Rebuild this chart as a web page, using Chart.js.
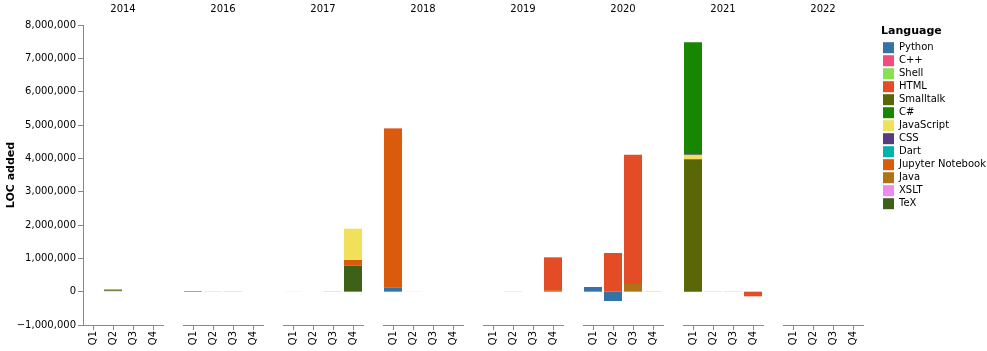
<!DOCTYPE html>
<html>
<head>
<meta charset="utf-8">
<script src="https://cdn.jsdelivr.net/npm/chart.js@4.4.1/dist/chart.umd.min.js"></script>
<style>
  html, body { margin: 0; padding: 0; background: #fff; width: 987px; height: 351px; overflow: hidden; position: relative; }
  canvas { position: absolute; top: 0; }
</style>
</head>
<body>
<script>
// ---- data ----
const years = ['2014', '2016', '2017', '2018', '2019', '2020', '2021', '2022'];
const quarters = ['Q1', 'Q2', 'Q3', 'Q4'];
const yMin = -1000000;
const yMax = 8000000;
const yStep = 1000000;
const yTitle = 'LOC added';
const legendTitle = 'Language';

// legend order
const languages = ['Python', 'C++', 'Shell', 'HTML', 'Smalltalk', 'C#', 'JavaScript', 'CSS', 'Dart', 'Jupyter Notebook', 'Java', 'XSLT', 'TeX'];
const colors = ['#3572A5', '#f34b7d', '#89e051', '#e34c26', '#596706', '#178600', '#f1e05a', '#563d7c', '#00B4AB', '#DA5B0B', '#b07219', '#EB8CEB', '#3D6117'];

// values per language, year by year (Q1..Q4 for each year in `years`)
//                  2014                 2016                2017                     2018                  2019                2020                          2021                         2022
const python     = [0, 0, 0, 0,          0, 0, 0, 0,         0, 0, 5000, 0,           120000, 0, 0, 0,      0, 0, 0, 0,         140000, -280000, 0, 0,        0, 0, 0, 0,                  0, 0, 0, 0];
const cpp        = [0, 0, 0, 0,          0, 0, 0, 0,         0, 0, 0, 0,              0, 0, 0, 0,           0, 0, 0, 0,         0, 0, 0, 0,                   0, 0, 0, 0,                  0, 0, 0, 0];
const shell      = [0, 15000, 0, 0,      0, 0, 0, 0,         0, 0, 0, 0,              0, 0, 0, 0,           0, 0, 0, 0,         0, 0, 0, 0,                   0, 0, 0, 0,                  0, 0, 0, 0];
const html       = [0, 0, 0, 0,          0, 0, 0, 0,         0, 0, 0, 0,              15000, 0, 0, 0,       0, 0, 0, 985000,    0, 1160000, 3880000, 0,       0, 0, 0, -140000,            0, 0, 0, 0];
const smalltalk  = [0, 30000, 0, 0,      0, 0, 0, 0,         0, 0, 0, 0,              0, 0, 0, 0,           0, 0, 0, 0,         0, 0, 0, 0,                   3970000, 0, 0, 0,            0, 0, 0, 0];
const csharp     = [0, 0, 0, 0,          0, 0, 0, 0,         0, 0, 0, 0,              0, 0, 0, 0,           0, 0, 0, 0,         0, 0, 0, 0,                   3360000, 0, 0, 0,            0, 0, 0, 0];
const javascript = [0, 0, 0, 0,          0, 15000, 0, 0,     5000, 0, 0, 940000,      0, 5000, 0, 0,        0, 0, 0, 0,         0, 0, 0, 0,                   130000, 0, 0, 0,             0, 0, 0, 0];
const css        = [0, 0, 0, 0,          15000, 0, 4000, 0,  0, 0, 0, 0,              0, 0, 0, 0,           0, 3000, 0, 0,      0, 0, 0, 4000,                20000, 0, 0, 0,              0, 0, 0, 0];
const dart       = [0, 0, 0, 0,          0, 0, 0, 0,         0, 0, 0, 0,              0, 0, 0, 0,           0, 0, 0, 0,         0, 0, 0, 0,                   0, 5000, 5000, 0,            0, 0, 0, 0];
const jupyter    = [0, 0, 0, 0,          0, 0, 0, 0,         0, 0, 0, 170000,         4770000, 0, 0, 0,     0, 0, 0, 45000,     0, 0, 0, 0,                   0, 0, 0, 0,                  0, 0, 0, 0];
const java       = [0, 0, 0, 0,          0, 0, 0, 0,         0, 0, 0, 0,              0, 0, 0, 0,           0, 0, 0, 0,         0, 0, 230000, 0,              0, 0, 0, 0,                  0, 0, 0, 0];
const xslt       = [0, 0, 0, 0,          0, 0, 0, 0,         0, 0, 0, 0,              0, 0, 0, 0,           0, 0, 0, 0,         0, 0, 0, 0,                   0, 0, 0, 0,                  0, 0, 0, 0];
const tex        = [0, 30000, 0, 0,      0, 0, 0, 0,         0, 0, 0, 780000,         0, 0, 0, 0,           0, 0, 0, 0,         0, 0, 0, 0,                   0, 0, 0, 0,                  0, 0, 0, 0];

const seriesList = [python, cpp, shell, html, smalltalk, csharp, javascript, css, dart, jupyter, java, xslt, tex];

// ---- rendering ----
Chart.defaults.font.family = "'DejaVu Sans', 'Liberation Sans', sans-serif";
Chart.defaults.color = '#000';

const AXIS_W = 83, PLOT_W = 80, STEP = 100, H = 351, RIGHT_PAD = 10;

// stacking order: descending by name, first dataset at bottom
const stackOrder = languages.map((n, i) => i).sort((a, b) => {
  const A = languages[a], B = languages[b];
  return A < B ? 1 : (A > B ? -1 : 0);
});

const fmt = v => Number(v).toLocaleString('en-US').replace('-', '\u2212');

years.forEach((yr, k) => {
  const first = k === 0;
  const c = document.createElement('canvas');
  const w = (first ? AXIS_W : 0) + PLOT_W + RIGHT_PAD;
  c.width = w; c.height = H;
  c.style.width = w + 'px'; c.style.height = H + 'px';
  c.style.left = (first ? 0 : AXIS_W + STEP * k) + 'px';
  document.body.appendChild(c);

  const datasets = stackOrder.map(i => ({
    label: languages[i],
    data: seriesList[i].slice(4 * k, 4 * k + 4),
    backgroundColor: colors[i],
    borderWidth: 0,
    barPercentage: 0.9,
    categoryPercentage: 1.0
  }));

  const yScale = {
    stacked: true,
    display: first,
    min: yMin, max: yMax,
    grid: { display: true, drawOnChartArea: false, drawTicks: true, tickLength: 5, color: '#888' },
    border: { display: true, color: '#888', width: 1 },
    ticks: { stepSize: yStep, padding: 2, color: '#000', font: { size: 10 }, callback: v => fmt(v) },
    title: { display: true, text: yTitle, color: '#000', font: { size: 11, weight: 'bold' }, padding: { top: 5, bottom: 0 } }
  };
  if (first) yScale.afterFit = s => { s.width = AXIS_W; };

  new Chart(c, {
    type: 'bar',
    data: { labels: quarters, datasets },
    options: {
      responsive: false,
      animation: false,
      devicePixelRatio: 1,
      layout: { padding: { left: 0, right: RIGHT_PAD, top: 0, bottom: 0 } },
      plugins: {
        legend: { display: false },
        tooltip: { enabled: false },
        title: {
          display: true, text: yr, fullSize: false, color: '#000',
          font: { size: 10, weight: 'normal' },
          padding: { top: 3, bottom: 10 }
        }
      },
      scales: {
        x: {
          stacked: true,
          offset: true,
          grid: { display: true, offset: false, drawOnChartArea: false, drawTicks: true, tickLength: 5, color: '#888' },
          border: { display: true, color: '#888', width: 1 },
          ticks: { minRotation: 90, maxRotation: 90, autoSkip: false, padding: 1, color: '#000', font: { size: 10 } },
          afterFit: s => { s.height = 26; }
        },
        y: yScale
      }
    }
  });
});

// legend
const lc = document.createElement('canvas');
lc.width = 200; lc.height = H;
lc.style.width = '200px'; lc.style.height = H + 'px';
lc.style.left = '881px';
document.body.appendChild(lc);
new Chart(lc, {
  type: 'bar',
  data: {
    labels: [],
    datasets: languages.map((n, i) => ({ label: n, data: [], backgroundColor: colors[i], borderWidth: 0 }))
  },
  options: {
    responsive: false,
    animation: false,
    devicePixelRatio: 1,
    layout: { padding: 0 },
    scales: { x: { display: false }, y: { display: false } },
    plugins: {
      tooltip: { enabled: false },
      legend: {
        display: true, position: 'left', align: 'start', maxWidth: 200,
        title: { display: true, position: 'start', text: legendTitle, color: '#000', font: { size: 11, weight: 'bold' }, padding: { top: 26, bottom: 1 } },
        labels: { boxWidth: 11, boxHeight: 11, padding: 2, color: '#000', font: { size: 10 } }
      }
    }
  }
});
</script>
</body>
</html>
